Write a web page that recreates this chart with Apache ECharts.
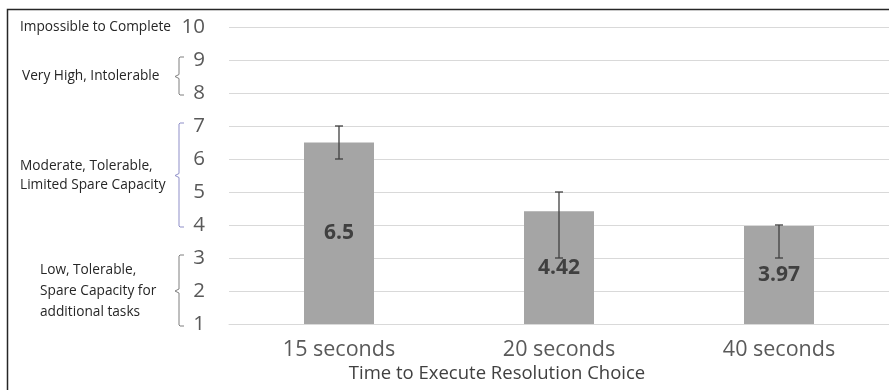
<!DOCTYPE html>
<html>
<head>
<meta charset="utf-8">
<script src="https://cdn.jsdelivr.net/npm/echarts@6/dist/echarts.min.js"></script>
<style>html,body{margin:0;padding:0;background:#fff;}#c{width:889px;height:390px;}</style>
</head>
<body>
<div id="c"></div>
<script>
const categories = ['15 seconds', '20 seconds', '40 seconds'];
const meanValues = [6.5, 4.42, 3.97];
const errLow = [6, 3, 3];
const errHigh = [7, 5, 4];
const yTicks = [1, 2, 3, 4, 5, 6, 7, 8, 9, 10];
const xAxisTitle = 'Time to Execute Resolution Choice';
const bands = [
  { from: 10, to: 10, lines: ['Impossible to Complete'] },
  { from: 8, to: 9, lines: ['Very High, Intolerable'] },
  { from: 4, to: 7, lines: ['Moderate, Tolerable,', 'Limited Spare Capacity'] },
  { from: 1, to: 3, lines: ['Low, Tolerable,', 'Spare Capacity for', 'additional tasks'] }
];

const FONT = '"Open Sans", Lato, sans-serif';
const chart = echarts.init(document.getElementById('c'), null, { renderer: 'canvas' });

const option = {
  animation: false,
  backgroundColor: '#fff',
  grid: { left: 229, top: 27, width: 666, height: 297, containLabel: false },
  xAxis: {
    type: 'category',
    data: categories,
    axisLine: { show: true, lineStyle: { color: '#d9d9d9' } },
    axisTick: { show: false },
    axisLabel: { color: '#595959', fontSize: 21.5, fontFamily: FONT, margin: 15 }
  },
  yAxis: {
    type: 'value',
    min: 1, max: 10, interval: 1,
    axisLine: { show: false },
    axisTick: { show: false },
    splitLine: { lineStyle: { color: '#d9d9d9', width: 1 } },
    axisLabel: { color: '#595959', fontSize: 20.5, fontFamily: FONT, margin: 24 }
  },
  series: [
    {
      type: 'bar',
      data: meanValues,
      barWidth: 70,
      itemStyle: { color: '#a5a5a5' },
      label: {
        show: true, position: 'inside', color: '#404040',
        fontSize: 21, fontWeight: 'bold', fontFamily: FONT
      },
      z: 2
    },
    {
      type: 'custom',
      data: categories.map((c, i) => [i, errLow[i], errHigh[i]]),
      renderItem: function (params, api) {
        const x = api.coord([api.value(0), 0])[0];
        const lo = api.coord([api.value(0), api.value(1)])[1];
        const hi = api.coord([api.value(0), api.value(2)])[1];
        const hw = 4;
        const st = { stroke: '#404040', lineWidth: 1.3 };
        return {
          type: 'group',
          children: [
            { type: 'line', shape: { x1: x, y1: lo, x2: x, y2: hi }, style: st },
            { type: 'line', shape: { x1: x - hw, y1: lo, x2: x + hw, y2: lo }, style: st },
            { type: 'line', shape: { x1: x - hw, y1: hi, x2: x + hw, y2: hi }, style: st }
          ]
        };
      },
      z: 3
    }
  ]
};
chart.setOption(option);

function py(v) { return chart.convertToPixel({ yAxisIndex: 0 }, v); }

const graphics = [];
graphics.push({
  type: 'polyline',
  shape: { points: [[7.5, 390], [7.5, 9.5], [889, 9.5]] },
  style: { stroke: '#262626', lineWidth: 1.5, fill: null }
});
graphics.push({
  type: 'text', x: 497, y: 374,
  style: { text: xAxisTitle, fill: '#404040', font: '18.5px ' + FONT, align: 'center', verticalAlign: 'middle' }
});

const textStarts = [20, 22, 20, 40];
const lineHeights = [0, 0, 19, 21];
const bracketColors = ['#7f7f7f', '#7f7f7f', '#8f8fc8', '#7f7f7f'];
bands.forEach((b, k) => {
  const yTop = py(b.to), yBot = py(b.from);
  const mid = (yTop + yBot) / 2;
  const n = b.lines.length;
  b.lines.forEach((ln, j) => {
    graphics.push({
      type: 'text', x: textStarts[k], y: mid + (j - (n - 1) / 2) * lineHeights[k],
      style: { text: ln, fill: '#262626', font: '13.7px ' + FONT, align: 'left', verticalAlign: 'middle' }
    });
  });
  if (b.from !== b.to) {
    const bx = 179;
    const t = yTop - 3, bt = yBot + 2;
    graphics.push({
      type: 'polyline',
      shape: { points: [[bx + 5, t], [bx + 1, t], [bx, t + 1], [bx, mid - 2], [bx - 4, mid], [bx, mid + 2], [bx, bt - 1], [bx + 1, bt], [bx + 5, bt]] },
      style: { stroke: bracketColors[k], lineWidth: 1, fill: null }
    });
  }
});
chart.setOption({ graphic: graphics });
</script>
</body>
</html>
